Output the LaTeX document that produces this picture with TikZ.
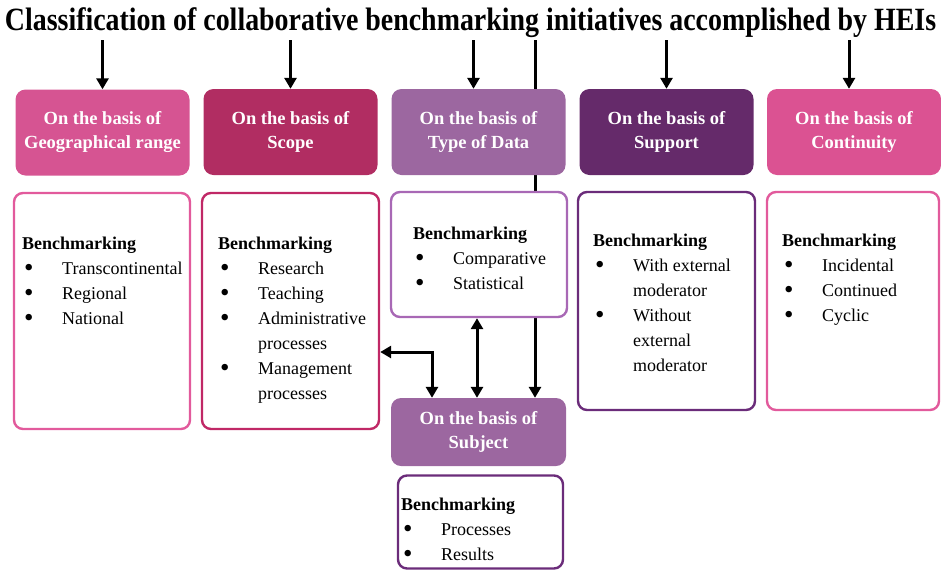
\documentclass[tikz,border=0pt]{standalone}
\usepackage{fontspec}
\setmainfont{Liberation Serif}
\usetikzlibrary{arrows.meta,backgrounds}

\definecolor{geo}{RGB}{214,84,146}
\definecolor{scope}{RGB}{177,45,98}
\definecolor{data}{RGB}{156,103,160}
\definecolor{supp}{RGB}{101,42,106}
\definecolor{cont}{RGB}{219,82,146}
\definecolor{geoline}{RGB}{226,90,156}
\definecolor{scopeline}{RGB}{192,40,102}
\definecolor{dataline}{RGB}{168,104,181}
\definecolor{suppline}{RGB}{107,44,122}

\newcommand{\bitem}{\hspace*{2pt}\makebox[38pt][l]{\raisebox{-2.8pt}{\scalebox{1.5}{\textbullet}}}}
\newcommand{\bcont}{\hspace*{40pt}}
\newcommand{\blist}[1]{\begin{tabular}[t]{@{}l@{}}\textbf{Benchmarking}\\#1\end{tabular}}

\tikzset{
  head/.style={rectangle, rounded corners=10pt, minimum width=174pt, minimum height=86pt, inner sep=0pt, text=white, align=center, font=\fontsize{18.5}{24}\selectfont\bfseries},
  frame/.style={rectangle, rounded corners=9pt, draw, line width=2.4pt, fill=white},
  list/.style={anchor=base west, inner sep=0pt, font=\fontsize{18}{25}\selectfont},
  arr/.style={line width=3pt, -{Triangle[width=12pt,length=11pt]}},
  dbl/.style={line width=3pt, {Triangle[width=12pt,length=11pt]}-{Triangle[width=12pt,length=11pt]}},
}

\begin{document}
\begin{tikzpicture}[x=1pt,y=-1pt]
	\useasboundingbox (0,0) rectangle (941,571);
	\node[inner sep=0pt] (title) at (470.5,22.5) {\resizebox*{931pt}{30pt}{\bfseries Classification of collaborative benchmarking initiatives accomplished by HEIs}};
	\coordinate (top) at (0,40);
	\coordinate (spine) at (535,40);
	\coordinate (elb) at (432,352);

	% category heads
	\node[head, fill=geo] (h1) at (102.5,132.5) {On the basis of\\Geographical range};
	\node[head, fill=scope] (h2) at (290.5,132) {On the basis of\\Scope};
	\node[head, fill=data] (h3) at (478.5,132) {On the basis of\\Type of Data};
	\node[head, fill=supp] (h4) at (666.5,132) {On the basis of\\Support};
	\node[head, fill=cont] (h5) at (854,132) {On the basis of\\Continuity};
	\node[head, fill=data, minimum width=175pt, minimum height=68pt] (hsub) at (478.5,432) {On the basis of\\Subject};

	% lists below the heads
	\node[frame, draw=geoline, minimum width=176pt, minimum height=236pt] (c1) at (102,311) {};
	\node[frame, draw=scopeline, minimum width=177pt, minimum height=236pt] (c2) at (290.5,311) {};
	\node[frame, draw=dataline, minimum width=176pt, minimum height=125pt] (c3) at (479,254.5) {};
	\node[frame, draw=suppline, minimum width=177pt, minimum height=218pt] (c4) at (666.5,301) {};
	\node[frame, draw=geoline, minimum width=172pt, minimum height=218pt] (c5) at (853,301) {};
	\node[frame, draw=suppline, minimum width=165pt, minimum height=93pt] (csub) at (480.5,522) {};

	\node[list] (t1) at (22,249) {\blist{\bitem Transcontinental\\ \bitem Regional\\ \bitem National}};
	\node[list] (t2) at (218,249) {\blist{\bitem Research\\ \bitem Teaching\\ \bitem Administrative\\ \bcont processes\\ \bitem Management\\ \bcont processes}};
	\node[list] (t3) at (413,239) {\blist{\bitem Comparative\\ \bitem Statistical}};
	\node[list] (t4) at (593,246) {\blist{\bitem With external\\ \bcont moderator\\ \bitem Without\\ \bcont external\\ \bcont moderator}};
	\node[list] (t5) at (782,246) {\blist{\bitem Incidental\\ \bitem Continued\\ \bitem Cyclic}};
	\node[list] (tsub) at (401,510) {\blist{\bitem Processes\\ \bitem Results}};

	% arrows
	\draw[arr] (top -| h1) -- (h1.north);
	\draw[arr] (top -| h2) -- (h2.north);
	\draw[arr] ([xshift=-5pt]top -| h3) -- ([xshift=-5pt]h3.north);
	\draw[arr] (top -| h4) -- (h4.north);
	\draw[arr] ([xshift=-5pt]top -| h5) -- ([xshift=-5pt]h5.north);
	\begin{scope}[on background layer]
		\draw[arr] (spine) -- (spine |- hsub.north);
	\end{scope}
	\draw[dbl] ([xshift=-2pt]c3.south) -- ([xshift=-2pt]c3.south |- hsub.north);
	\draw[dbl] (elb -| c2.east) -- (elb) -- (elb |- hsub.north);
\end{tikzpicture}
\end{document}
